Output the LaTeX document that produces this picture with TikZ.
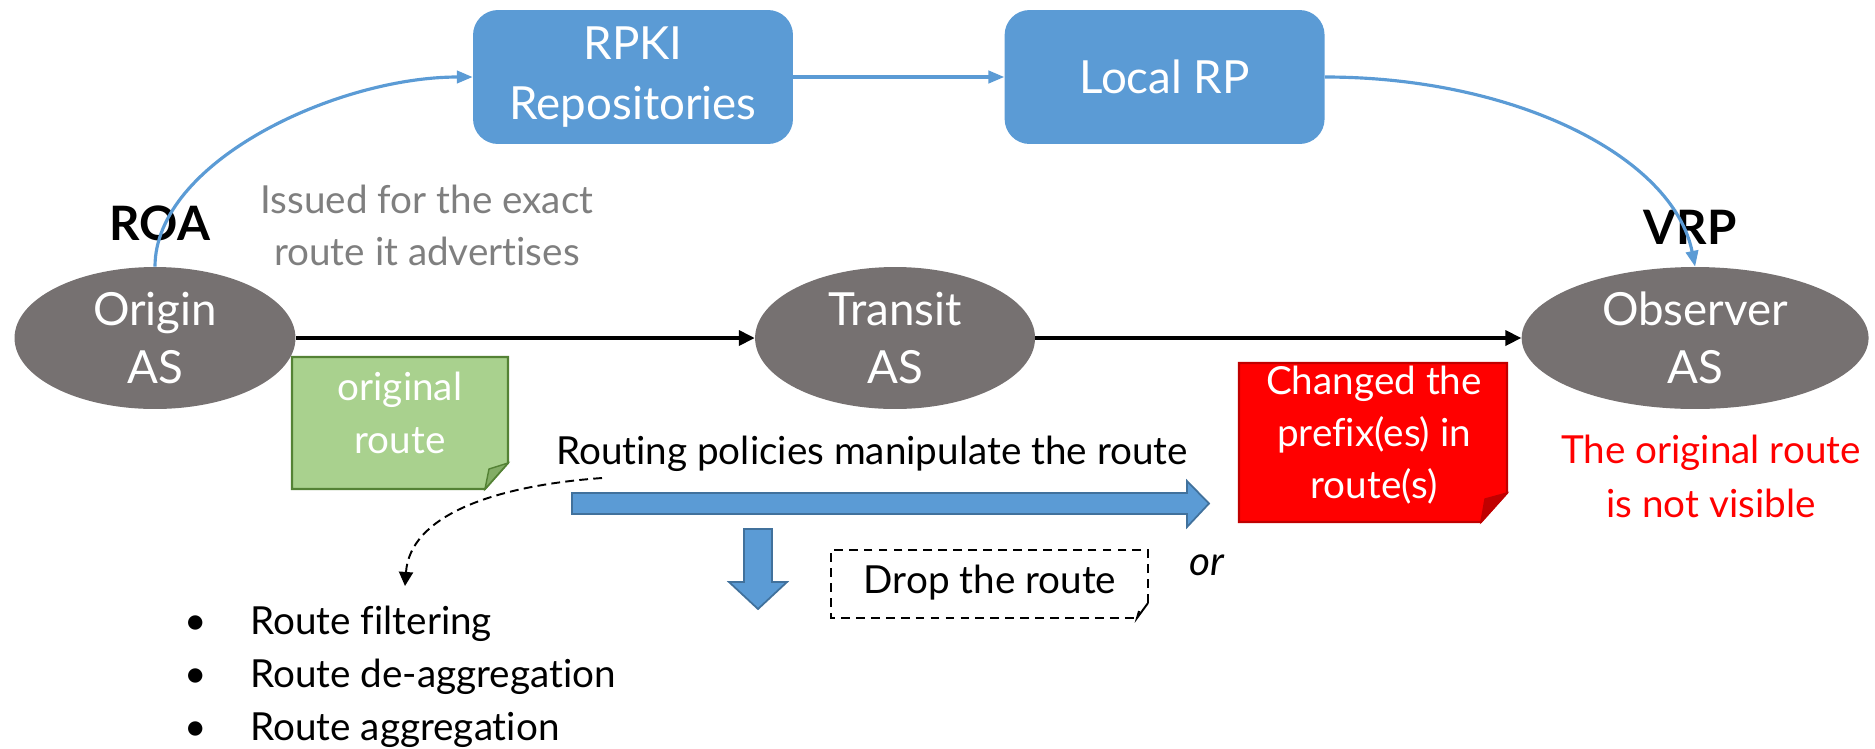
\documentclass[tikz,border=0pt]{standalone}
\usepackage{fontspec}
\setmainfont{Lato}[Ligatures=NoCommon]
\usetikzlibrary{positioning, arrows, arrows.meta, calc, shapes.geometric}

\definecolor{asgray}{HTML}{767171}
\definecolor{rpblue}{HTML}{5B9BD5}
\definecolor{arrowedge}{HTML}{41719C}
\definecolor{notegreen}{HTML}{A9D18E}
\definecolor{noteedge}{HTML}{548235}
\definecolor{notered}{HTML}{FF0000}
\definecolor{rededge}{HTML}{C00000}
\definecolor{textgray}{HTML}{7F7F7F}

\tikzset{
    asnode/.style={ellipse, fill=asgray, text=white, minimum height=2.84cm,
        inner sep=0pt, align=center, font=\fontsize{26}{33}\selectfont},
    rpbox/.style={rectangle, rounded corners=0.5cm, fill=rpblue, text=white,
        minimum width=6.4cm, minimum height=2.68cm, inner sep=0pt,
        align=center, font=\fontsize{26}{34}\selectfont},
    txt/.style={align=center, inner sep=0pt, font=\fontsize{22}{30}\selectfont},
    tag/.style={inner sep=0pt, font=\bfseries\fontsize{27}{32}\selectfont},
    rpkiline/.style={color=rpblue, line width=1.8pt, -{Triangle[length=9pt,width=7pt]}},
    routeline/.style={line width=2pt, -{Triangle[length=9pt,width=8.5pt]}},
    bigarrow/.style={fill=rpblue, draw=arrowedge, line width=1pt},
}

\begin{document}
\begin{tikzpicture}[x=0.02cm, y=-0.02cm]
    \useasboundingbox (0,0) rectangle (1875,748);

    \node[asnode, minimum width=5.62cm] (Origin) at (155,338) {Origin\\AS};
    \node[asnode, minimum width=5.6cm] (Transit) [right=9.18cm of Origin] {Transit\\AS};
    \node[asnode, minimum width=6.94cm] (Observer) [right=9.72cm of Transit] {Observer\\AS};

    \node[rpbox] (RPKI) at (633,77) {RPKI\\Repositories};
    \node[rpbox] (LocalRP) [right=4.22cm of RPKI] {Local RP};

    \node[tag] (ROA) at (160,223) {ROA};
    \node[tag] (VRP) at (1690,227) {VRP};
    \node[txt, text=textgray, font=\fontsize{22}{29.6}\selectfont] (issued) at (427,225)
        {Issued for the exact\\route it advertises};

    % RPKI chain
    \draw[rpkiline] (Origin.north) .. controls +(0,-105) and +(-136,0) .. (RPKI.west);
    \path[rpkiline] (RPKI) edge (LocalRP);
    \draw[rpkiline] (LocalRP.east) .. controls +(190,0) and +(-22,-110) .. (Observer.north);

    % route propagation
    \path[routeline]
    (Origin) edge (Transit)
    (Transit) edge (Observer)
    ;

    % notes
    \filldraw[fill=notegreen, draw=noteedge, line width=1.2pt]
        (292,357) -- (508,357) -- (508,463) -- (485,489) -- (292,489) -- cycle;
    \filldraw[fill=noteedge!45!notegreen, draw=noteedge, line width=0.8pt]
        (508,463) -- (489,469) -- (485,489) -- cycle;
    \node[txt, text=white] (orig) at (400,413) {original\\route};

    \filldraw[fill=notered, draw=rededge, line width=1.2pt]
        (1239,363) -- (1507,363) -- (1507,493) -- (1481,522) -- (1239,522) -- cycle;
    \filldraw[fill=rededge, draw=rededge, line width=0.8pt]
        (1507,493) -- (1485,499) -- (1481,522) -- cycle;
    \node[txt, text=white, font=\fontsize{22}{29.6}\selectfont] (changed) at (1374,435)
        {Changed the\\prefix(es) in\\route(s)};

    \node[txt, text=notered, font=\fontsize{22}{30.7}\selectfont] (hidden) at (1711,476)
        {The original route\\is not visible};

    % policies
    \node[txt] (policy) at (872,454) {Routing policies manipulate the route};
    \filldraw[bigarrow] (572,493) -- (1187,493) -- (1187,481) -- (1209,503.5)
        -- (1187,527) -- (1187,514) -- (572,514) -- cycle;
    \filldraw[bigarrow] (744,529) -- (772,529) -- (772,582) -- (787,582)
        -- (758,609) -- (729,582) -- (744,582) -- cycle;

    \draw[dashed, dash pattern=on 5pt off 3.5pt, line width=1.1pt]
        (1148,603) -- (1148,550) -- (831,550) -- (831,618) -- (1137,618);
    \draw[line width=1.1pt] (1148,603) -- (1137,618) -- (1139,611);
    \node[txt] (drop) at (990,583) {Drop the route};
    \node[txt, font=\itshape\fontsize{23}{30}\selectfont] (or) at (1207,565) {or};

    \coordinate (dashstart) at (602,478);
    \coordinate (dashend) at (405,586);
    \draw[dash pattern=on 5pt off 3pt, line width=1.1pt, -{Triangle[length=8pt,width=8pt]}]
        (dashstart) .. controls (492,486) and (410,516) .. (dashend);

    \node[txt, anchor=west] (methods) at (140,677)
        {\begin{tabular}{@{}l@{}l@{}}
            \makebox[2.2cm]{\textbullet} & Route filtering\\
            \makebox[2.2cm]{\textbullet} & Route de-aggregation\\
            \makebox[2.2cm]{\textbullet} & Route aggregation
        \end{tabular}};
\end{tikzpicture}
\end{document}
